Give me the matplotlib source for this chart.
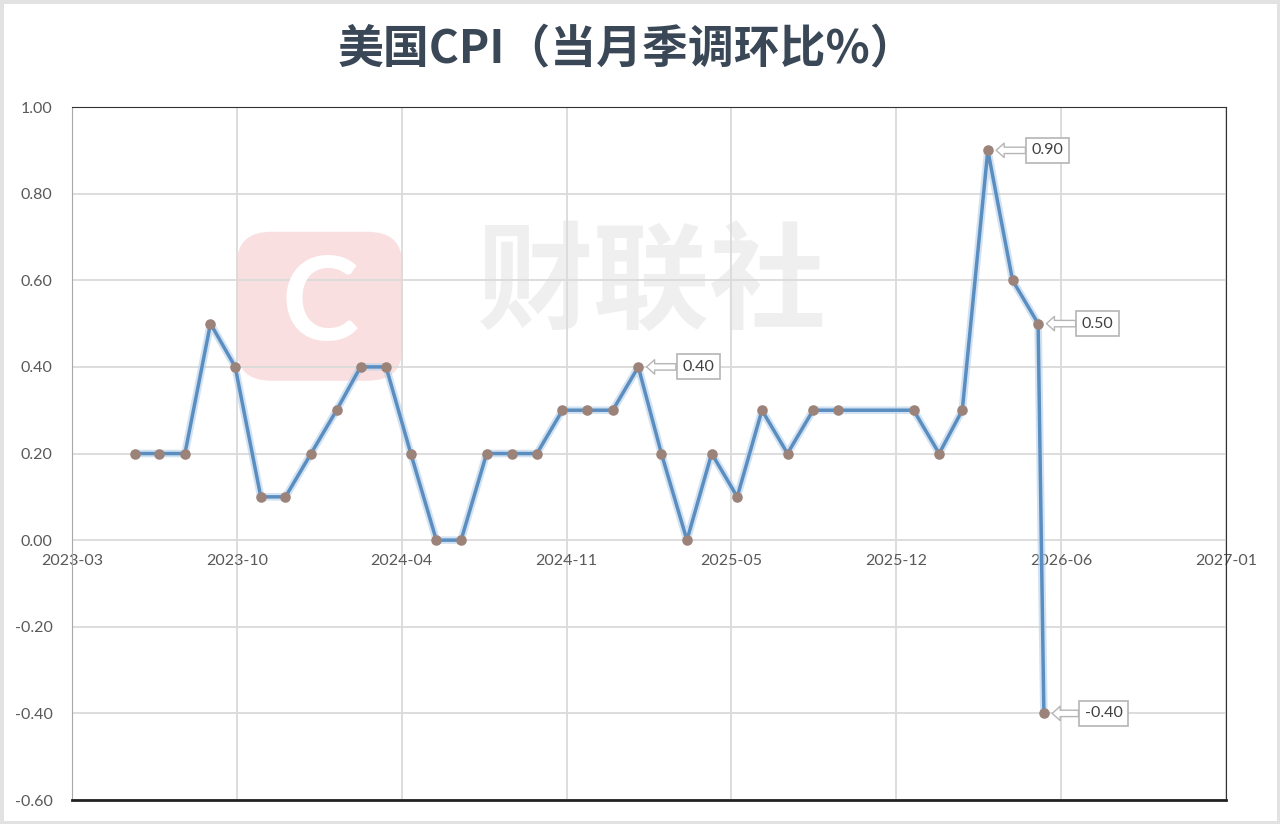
import datetime as dt
import matplotlib.pyplot as plt
from matplotlib.patches import FancyBboxPatch, Rectangle

plt.rcParams['font.family'] = ['Lato', 'Noto Sans CJK SC', 'DejaVu Sans']
plt.rcParams['axes.unicode_minus'] = False

# -----------------------------
# Data
# -----------------------------
dates = [
    "2023-06-01", "2023-07-01", "2023-08-01", "2023-09-01", "2023-10-01", "2023-11-01",
    "2023-12-01", "2024-01-01", "2024-02-01", "2024-03-01", "2024-04-01", "2024-05-01",
    "2024-06-01", "2024-07-01", "2024-08-01", "2024-09-01", "2024-10-01", "2024-11-01",
    "2024-12-01", "2025-01-01", "2025-02-01", "2025-03-01", "2025-04-01", "2025-05-01",
    "2025-06-01", "2025-07-01", "2025-08-01", "2025-09-01", "2025-10-01",
    "2026-01-01", "2026-02-01", "2026-03-01", "2026-04-01", "2026-05-01", "2026-06-01",
    "2026-06-08",
]
values = [
    0.2, 0.2, 0.2, 0.5, 0.4, 0.1,
    0.1, 0.2, 0.3, 0.4, 0.4, 0.2,
    0.0, 0.0, 0.2, 0.2, 0.2, 0.3,
    0.3, 0.3, 0.4, 0.2, 0.0, 0.2,
    0.1, 0.3, 0.2, 0.3, 0.3,
    0.3, 0.2, 0.3, 0.9, 0.6, 0.5,
    -0.4,
]
callout_idx = [20, 32, 34, 35]

x_start = "2023-03-17"
x_step_days = 200
x_tick_labels = ["2023-03", "2023-10", "2024-04", "2024-11", "2025-05", "2025-12", "2026-06", "2027-01"]
y_ticks = [-0.6, -0.4, -0.2, 0.0, 0.2, 0.4, 0.6, 0.8, 1.0]

title = "美国CPI（当月季调环比%）"

# -----------------------------
# Figure
# -----------------------------
x = [dt.datetime.strptime(d, "%Y-%m-%d") for d in dates]
x0 = dt.datetime.strptime(x_start, "%Y-%m-%d")
x_ticks = [x0 + dt.timedelta(days=x_step_days * k) for k in range(len(x_tick_labels))]

fig = plt.figure(figsize=(12.8, 8.24), dpi=100, facecolor="white")
fig.patches.append(Rectangle((0, 0), 1, 1, transform=fig.transFigure, fill=False,
                             ec="#e2e2e2", lw=5, zorder=10))
ax = fig.add_axes([0.05625, 0.0291, 0.9016, 0.841])

ax.set_xlim(x_ticks[0], x_ticks[-1])
ax.set_ylim(y_ticks[0], y_ticks[-1])

# watermark
ax.add_patch(FancyBboxPatch((0.143, 0.605), 0.143, 0.215, transform=ax.transAxes,
                            boxstyle="round,pad=0,rounding_size=0.03",
                            fc="#f9dfdf", ec="none", zorder=0.5, mutation_aspect=1.5))
ax.text(0.215, 0.712, "C", transform=ax.transAxes, fontsize=84, fontweight="bold",
        color="white", ha="center", va="center", zorder=0.6)
ax.text(0.502, 0.74, "财联社", transform=ax.transAxes, fontsize=84, fontweight="bold",
        color="#efefef", ha="center", va="center", zorder=0.5,
        family=["Noto Sans CJK SC"])

ax.set_xticks(x_ticks)
ax.set_xticklabels(x_tick_labels)
ax.set_yticks(y_ticks)
ax.set_yticklabels([f"{v:.2f}" for v in y_ticks])
ax.grid(True, color="#dadada", lw=1.3, zorder=0)
ax.set_axisbelow(True)
ax.tick_params(length=0, labelsize=11.5, labelcolor="#595959")
ax.tick_params(axis="y", pad=14)
ax.tick_params(axis="x", pad=10)

# x axis crosses at zero, frame drawn separately
ax.spines["bottom"].set_position(("data", 0))
ax.spines["bottom"].set_visible(False)
ax.spines["left"].set_color("#a8a8a8")
ax.spines["top"].set_color("#333333")
ax.spines["right"].set_color("#333333")
ax.axhline(y_ticks[0], color="#222222", lw=2, clip_on=False, zorder=5)

# line + markers
ax.plot(x, values, color="#b5d0ea", lw=5.5, alpha=0.6, zorder=2, solid_capstyle="round")
ax.plot(x, values, color="#5b8ec0", lw=2.5, zorder=3)
ax.plot(x, values, ls="none", marker="o", ms=7.6, mfc="#9c837a", mec="none", zorder=4)

for i in callout_idx:
    ax.annotate(f"{values[i]:.2f}", xy=(x[i], values[i]), xytext=(43, 0),
                textcoords="offset points", ha="center", va="center",
                fontsize=11.5, color="#404040", zorder=6,
                bbox=dict(boxstyle="square,pad=0.35", fc="white", ec="#b5b5b5", lw=1.2),
                arrowprops=dict(arrowstyle="simple,head_length=0.5,head_width=0.9,tail_width=0.4",
                                fc="white", ec="#b5b5b5", lw=1.0, shrinkA=0, shrinkB=6))

fig.text(0.49, 0.94, title, ha="center", va="center", fontsize=33, fontweight="bold",
         color="#3a4756", family=["Noto Sans CJK SC"])

fig.savefig("out.png", dpi=100, facecolor="white")
